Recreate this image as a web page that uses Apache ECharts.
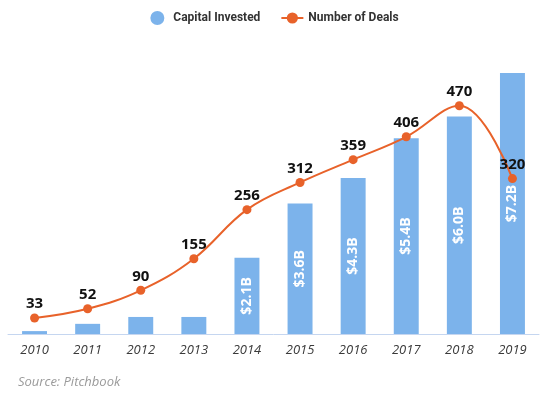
<!DOCTYPE html>
<html>
<head>
<meta charset="utf-8">
<script src="https://cdn.jsdelivr.net/npm/echarts@6/dist/echarts.min.js"></script>
<style>
  html, body { margin: 0; padding: 0; background: #fff; }
  #chart { width: 549px; height: 397px; }
</style>
</head>
<body>
<div id="chart"></div>
<script>
const years = ['2010', '2011', '2012', '2013', '2014', '2015', '2016', '2017', '2018', '2019']
// capital invested, $B
const capital = [0.08, 0.28, 0.47, 0.47, 2.1, 3.6, 4.3, 5.4, 6.0, 7.2]
const deals = [33, 52, 90, 155, 256, 312, 359, 406, 470, 320]

const chart = echarts.init(document.getElementById('chart'))
const font = 'Open Sans'

chart.setOption({
  animation: false,
  legend: {
    top: 6,
    left: 'center',
    itemGap: 20,
    itemWidth: 22,
    itemHeight: 14,
    textStyle: { fontFamily: 'Roboto', fontWeight: 'bold', fontSize: 12, color: '#333' },
    data: [
      { name: 'Capital Invested', icon: 'circle' },
      { name: 'Number of Deals' }
    ]
  },
  grid: { left: 8, right: 10, top: 62, bottom: 63 },
  xAxis: {
    type: 'category',
    data: years,
    axisLine: { lineStyle: { color: '#c5d6f0', width: 1 } },
    axisTick: { show: false },
    axisLabel: {
      margin: 10,
      fontFamily: font,
      fontStyle: 'italic',
      fontSize: 13,
      color: '#3a3a3a'
    }
  },
  yAxis: [
    { type: 'value', min: 0, max: 7.5, show: false, splitLine: { show: false } },
    { type: 'value', min: 0, max: 560, show: false, splitLine: { show: false } }
  ],
  series: [
    {
      name: 'Capital Invested',
      type: 'bar',
      data: capital,
      barWidth: '47%',
      itemStyle: { color: '#7cb3eb' },
      label: {
        show: true,
        position: 'inside',
        rotate: 90,
        color: '#fff',
        fontFamily: font,
        fontWeight: 'bold',
        fontSize: 14,
        formatter: p => (p.value >= 1 ? '$' + p.value.toFixed(1) + 'B' : '')
      }
    },
    {
      name: 'Number of Deals',
      type: 'line',
      yAxisIndex: 1,
      data: deals,
      smooth: 0.4,
      symbol: 'circle',
      symbolSize: 9,
      itemStyle: { color: '#e8622a' },
      lineStyle: { color: '#e8622a', width: 2 },
      label: {
        show: true,
        position: 'top',
        distance: 2,
        color: '#111',
        fontFamily: font,
        fontWeight: 'bold',
        fontSize: 15
      }
    }
  ],
  graphic: [
    {
      type: 'text',
      left: 18,
      top: 376,
      style: {
        text: 'Source: Pitchbook',
        fill: '#9a9a9a',
        font: 'italic 13px "Open Sans"'
      }
    }
  ]
})
</script>
</body>
</html>
